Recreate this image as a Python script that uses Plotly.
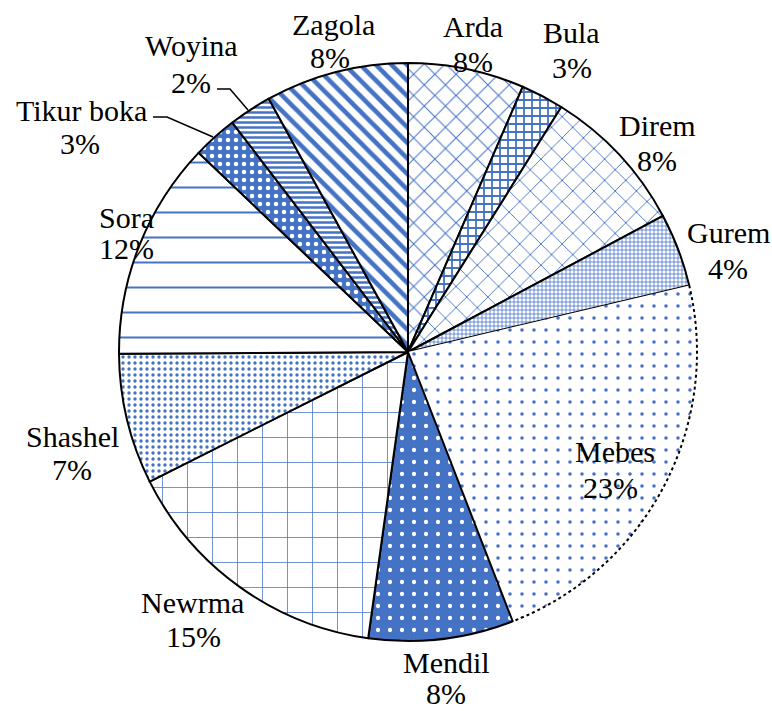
import numpy as np
import plotly.graph_objects as go

# ---- data ----
names = ["Arda", "Bula", "Direm", "Gurem", "Mebes", "Mendil", "Newrma",
         "Shashel", "Sora", "Tikur boka", "Woyina", "Zagola"]
shares = [6.5, 2.4, 8.3, 4.1, 22.8, 8.1, 15.4, 7.3, 12.2, 2.5, 2.4, 8.0]
pct_labels = ["8%", "3%", "8%", "4%", "23%", "8%", "15%", "7%", "12%", "3%", "2%", "8%"]

# ---- layout helpers ----
W, H = 772, 711
CX, CY, R = 408, 352, 289
BLUE = "#4472C4"
FONT = "Liberation Serif, Times New Roman, Times, serif"

def px(x):
    return x / W

def py(y):
    return 1 - y / H

shapes_ = ["x", "+", "x", "+", ".", ".", "+", ".", "-", ".", "-", "\\"]
sizes_ = [15, 8, 15, 4, 12, 12, 25, 6, 25, 8, 5, 11]
solid_ = [0.13, 0.4, 0.12, 0.35, 0.07, 0.1, 0.06, 0.25, 0.08, 0.25, 0.5, 0.42]
fg_ = [BLUE] * 12
bg_ = ["white"] * 12
fg_[5], bg_[5] = "white", BLUE
fg_[9], bg_[9] = "white", BLUE
line_w = [2] * 12
line_w[4] = 0

fig = go.Figure(go.Pie(
    labels=names, values=shares, sort=False, direction="clockwise", rotation=0,
    textinfo="none", hoverinfo="label+percent", showlegend=False,
    marker=dict(colors=["white"] * 12,
                line=dict(color="black", width=line_w),
                pattern=dict(shape=shapes_, size=sizes_, solidity=solid_,
                             fgcolor=fg_, bgcolor=bg_, fillmode="replace")),
    domain=dict(x=[px(CX - R), px(CX + R)], y=[py(CY + R), py(CY - R)]),
))

# dotted outer arc of Mebes slice, from the data
tot = sum(shares)
a0 = sum(shares[:4]) / tot * 2 * np.pi
a1 = sum(shares[:5]) / tot * 2 * np.pi
th = np.linspace(a0, a1, 80)
pts = [(px(CX + R * np.sin(t)), py(CY - R * np.cos(t))) for t in th]
path = "M " + " L ".join(f"{x:.5f},{y:.5f}" for x, y in pts)
shapes = [dict(type="path", path=path, xref="paper", yref="paper",
               line=dict(color="black", width=2, dash="dot"))]

# leader lines
leaders = [
    [(217, 89), (230, 89), (248, 110)],   # Woyina
    [(153, 117), (167, 117), (213, 137)],  # Tikur boka
]
for seg in leaders:
    p = "M " + " L ".join(f"{px(x):.5f},{py(y):.5f}" for x, y in seg)
    shapes.append(dict(type="path", path=p, xref="paper", yref="paper",
                       line=dict(color="black", width=1.5)))

# label positions (name centre, pct centre) in pixels
label_pos = [
    ((473, 27), (473, 62)),   # Arda
    ((571, 33), (572, 68)),   # Bula
    ((657, 125), (657, 160)),  # Direm
    ((728, 233), (728, 268)),  # Gurem
    ((615, 451), (610, 487)),  # Mebes
    ((447, 662), (446, 693)),  # Mendil
    ((192, 602), (193, 636)),  # Newrma
    ((72, 436), (72, 470)),   # Shashel
    ((126, 217), (126, 249)),  # Sora
    ((81, 110), (80, 143)),   # Tikur boka
    ((191, 46), (191, 82)),   # Woyina
    ((333, 25), (330, 58)),   # Zagola
]
annots = []
for nm, pc, (p1, p2) in zip(names, pct_labels, label_pos):
    for txt, (x, y) in ((nm, p1), (pc, p2)):
        annots.append(dict(text=txt, x=px(x), y=py(y), xref="paper", yref="paper",
                           xanchor="center", yanchor="middle", showarrow=False,
                           font=dict(family=FONT, size=30, color="black")))

fig.update_layout(width=W, height=H, margin=dict(l=0, r=0, t=0, b=0),
                  paper_bgcolor="white", plot_bgcolor="white",
                  font=dict(family=FONT),
                  shapes=shapes, annotations=annots)
fig.write_html("out.html")
